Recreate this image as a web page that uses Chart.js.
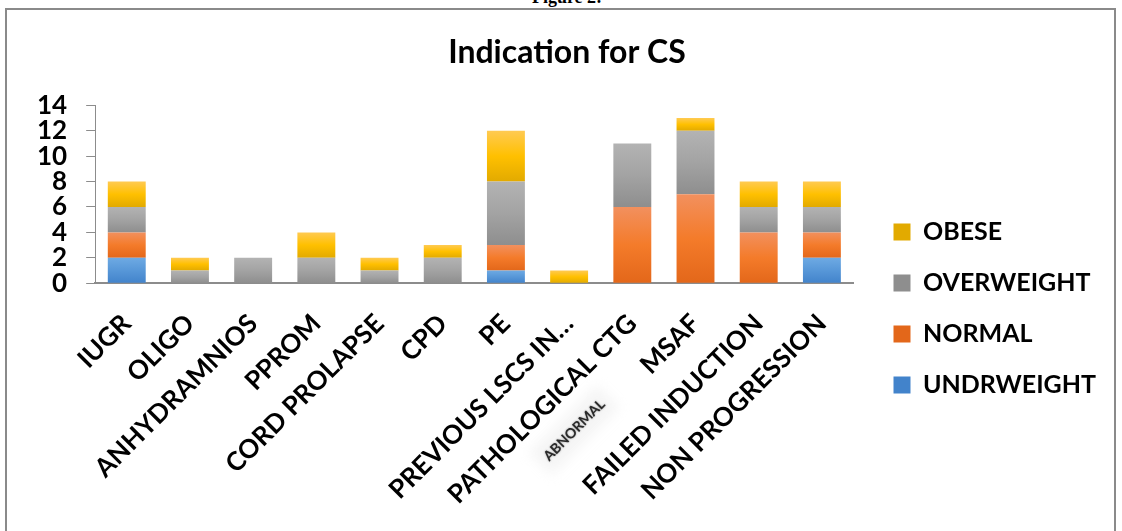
<!DOCTYPE html>
<html>
<head>
<meta charset="utf-8">
<script src="https://cdn.jsdelivr.net/npm/chart.js@4.4.1/dist/chart.umd.min.js"></script>
<style>
  html, body { margin: 0; padding: 0; background: #fff; overflow: hidden; }
  #wrap { position: relative; width: 1122px; height: 531px; overflow: hidden; }
  #frame { position: absolute; left: 5px; top: 8px; width: 1111px; height: 530px; border: 2px solid #8a8a8a; box-sizing: border-box; }
  #fig { position: absolute; left: 0; width: 1134px; top: -13px; text-align: center; font: bold 18px "Liberation Serif", serif; color: #000; }
  canvas { position: absolute; left: 0; top: 0; }
</style>
</head>
<body>
<div id="wrap">
  <div id="fig">Figure 2:</div>
  <div id="frame"></div>
  <canvas id="c" width="1122" height="531"></canvas>
</div>
<script>
const categories = ['IUGR','OLIGO','ANHYDRAMNIOS','PPROM','CORD PROLAPSE','CPD','PE','PREVIOUS LSCS IN…','PATHOLOGICAL CTG','MSAF','FAILED INDUCTION','NON PROGRESSION'];
const underweight = [2,0,0,0,0,0,1,0,0,0,0,2];
const normal      = [2,0,0,0,0,0,2,0,6,7,4,2];
const overweight  = [2,1,2,2,1,2,5,0,5,5,2,2];
const obese       = [2,1,0,2,1,1,4,1,0,1,2,2];
const yTicks = [0,2,4,6,8,10,12,14];

const gradStops = {
  UNDRWEIGHT: ['#6eaae3', '#5797d8', '#4283cb'],
  NORMAL: ['#f2905e', '#f47b2a', '#e3671a'],
  OVERWEIGHT: ['#b3b3b3', '#a3a3a3', '#8e8e8e'],
  OBESE: ['#ffca52', '#ffc000', '#e2aa00']
};

const FONT = 'Lato, "Open Sans", sans-serif';

function barFill(ctx) {
  const label = ctx.dataset.label;
  const stops = gradStops[label];
  const chart = ctx.chart;
  if (ctx.type !== 'data' || !chart.chartArea || !chart.scales.y) return stops[1];
  const idx = ctx.dataIndex;
  let start = 0;
  for (let j = 0; j < ctx.datasetIndex; j++) start += chart.data.datasets[j].data[idx] || 0;
  const v = chart.data.datasets[ctx.datasetIndex].data[idx] || 0;
  const ys = chart.scales.y;
  const top = ys.getPixelForValue(start + v), bot = ys.getPixelForValue(start);
  if (!(bot - top > 0.5)) return stops[1];
  const g = chart.ctx.createLinearGradient(0, top, 0, bot);
  g.addColorStop(0, stops[0]);
  g.addColorStop(0.5, stops[1]);
  g.addColorStop(1, stops[2]);
  return g;
}

// nudge legend / title blocks after layout (gap between plot and legend, as in the original)
const LEGEND_DX = 14, LEGEND_DY = 33, TITLE_DX = 12;
const nudgePlugin = {
  id: 'nudge',
  afterLayout(chart) {
    const lg = chart.legend;
    if (lg) { lg.left += LEGEND_DX; lg.right += LEGEND_DX; lg.top += LEGEND_DY; lg.bottom += LEGEND_DY; }
    const t = chart.titleBlock;
    if (t) { t.left += TITLE_DX; t.right += TITLE_DX; }
  }
};

const noteIndex = categories.indexOf('PATHOLOGICAL CTG');
const notePlugin = {
  id: 'note',
  afterDraw(chart) {
    const ctx = chart.ctx;
    const px = chart.scales.x.getPixelForValue(noteIndex);
    ctx.save();
    ctx.translate(px - 58, chart.chartArea.bottom + 147);
    ctx.rotate(-45 * Math.PI / 180);
    ctx.fillStyle = 'rgba(225,225,225,0.35)';
    ctx.filter = 'blur(6px)';
    ctx.fillRect(-48, -16, 96, 32);
    ctx.filter = 'none';
    ctx.font = 'bold 14px ' + FONT;
    ctx.fillStyle = '#2a2a2a';
    ctx.textAlign = 'center';
    ctx.textBaseline = 'middle';
    ctx.shadowColor = 'rgba(0,0,0,0.45)';
    ctx.shadowBlur = 2;
    ctx.fillText('ABNORMAL', 0, 0);
    ctx.restore();
  }
};

function mk(label, data) {
  return { label, data, backgroundColor: barFill, borderWidth: 0 };
}

new Chart(document.getElementById('c'), {
  type: 'bar',
  data: {
    labels: categories,
    datasets: [
      mk('UNDRWEIGHT', underweight),
      mk('NORMAL', normal),
      mk('OVERWEIGHT', overweight),
      mk('OBESE', obese)
    ]
  },
  plugins: [nudgePlugin, notePlugin],
  options: {
    responsive: false,
    animation: false,
    devicePixelRatio: 1,
    datasets: { bar: { categoryPercentage: 1.0, barPercentage: 0.6 } },
    layout: { padding: { left: 18, right: 30, top: 24, bottom: 4 } },
    plugins: {
      tooltip: { enabled: false },
      title: {
        display: true,
        text: 'Indication for CS',
        color: '#000',
        font: { family: FONT, size: 32, weight: 'bold' },
        padding: { top: 9, bottom: 34 }
      },
      legend: {
        position: 'right',
        fullSize: true,
        reverse: true,
        labels: {
          color: '#000',
          font: { family: FONT, size: 25, weight: 'bold' },
          boxWidth: 17,
          boxHeight: 17,
          padding: 26
        }
      }
    },
    scales: {
      x: {
        stacked: true,
        grid: { display: false },
        border: { color: '#8c8c8c', width: 2 },
        ticks: {
          color: '#000',
          font: { family: FONT, size: 26, weight: 'bold' },
          maxRotation: 45, minRotation: 45,
          autoSkip: false,
          padding: 17
        }
      },
      y: {
        stacked: true,
        min: 0, max: 14,
        afterBuildTicks(scale) { scale.ticks = yTicks.map(v => ({ value: v })); },
        grid: { drawOnChartArea: false, tickLength: 9, color: '#8c8c8c' },
        border: { color: '#8c8c8c', width: 1 },
        ticks: {
          color: '#000',
          autoSkip: false,
          font: { family: FONT, size: 26, weight: 'bold' },
          padding: 19
        }
      }
    }
  }
});
</script>
</body>
</html>
